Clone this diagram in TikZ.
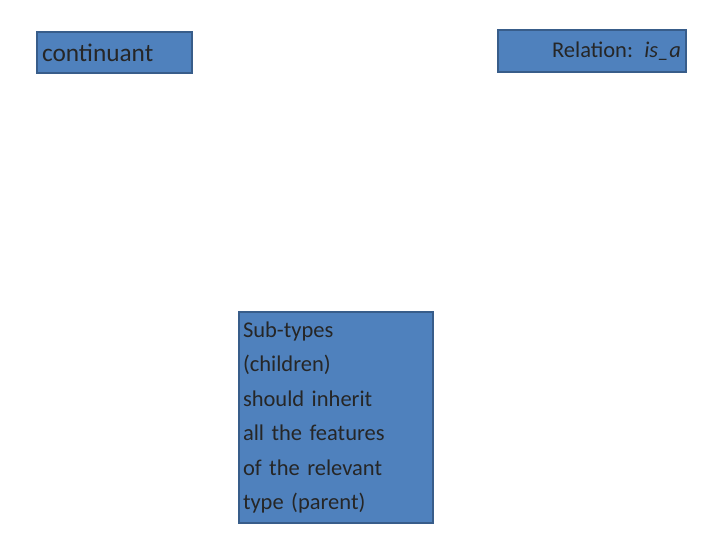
\documentclass[tikz,border=0pt]{standalone}
\usepackage{fontspec}
\setmainfont{Carlito}
\usepackage{tikz}
\definecolor{boxfill}{HTML}{4F81BD}
\definecolor{boxline}{HTML}{385D8A}
\begin{document}
\begin{tikzpicture}
[x=0.025cm,y=-0.025cm,
 box/.style={rectangle,draw=boxline,fill=boxfill,line width=1.5pt,inner sep=3pt,text=black!85}]
\useasboundingbox (0,0) rectangle (720,540);
\node[box,minimum width=155*0.025cm,minimum height=41*0.025cm,text width=145*0.025cm,align=left,font=\fontsize{18}{20}\selectfont] (cont) at (114.5,52.5) {continuant};
\node[box,minimum width=188*0.025cm,minimum height=42*0.025cm,text width=178*0.025cm,align=right,font=\fontsize{16}{18}\selectfont] (rel) at (592,51) {Relation: \textit{is\_a}\hspace{8pt}};
\node[box,minimum width=194*0.025cm,minimum height=211*0.025cm,text width=186*0.025cm,align=left,font=\fontsize{16}{24.5}\selectfont] (sub) at (336,417.5) {Sub-types\\(children)\\should inherit\\all the features\\of the relevant\\type (parent)};
\end{tikzpicture}
\end{document}
